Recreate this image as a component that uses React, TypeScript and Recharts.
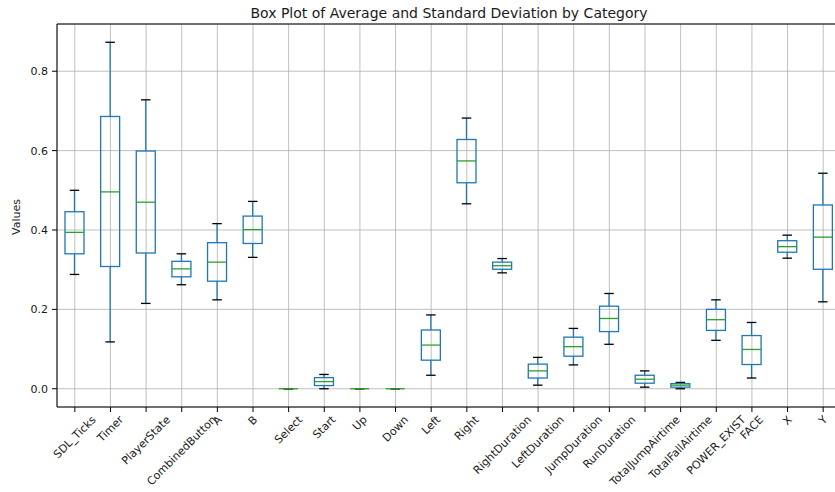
import { ComposedChart, Bar, XAxis, YAxis, CartesianGrid, ReferenceLine } from 'recharts';

const CATEGORIES = [
  'SDL_Ticks', 'Timer', 'PlayerState', 'CombinedButton', 'A', 'B', 'Select', 'Start', 'Up', 'Down',
  'Left', 'Right', 'RightDuration', 'LeftDuration', 'JumpDuration', 'RunDuration',
  'TotalJumpAirtime', 'TotalFallAirtime', 'POWER_EXIST', 'FACE', 'X', 'Y',
];

// five-number summary per category
const WHISKER_LOW = [0.288, 0.118, 0.215, 0.262, 0.224, 0.331, 0, 0.0, 0, 0, 0.034, 0.466, 0.292, 0.009, 0.060, 0.112, 0.004, 0.0, 0.122, 0.027, 0.329, 0.219];
const Q1 = [0.340, 0.308, 0.342, 0.282, 0.271, 0.366, 0, 0.008, 0, 0, 0.072, 0.519, 0.301, 0.027, 0.082, 0.144, 0.014, 0.004, 0.147, 0.061, 0.344, 0.301];
const MEDIAN = [0.394, 0.496, 0.470, 0.302, 0.319, 0.401, 0, 0.018, 0, 0, 0.110, 0.574, 0.310, 0.045, 0.106, 0.177, 0.024, 0.009, 0.174, 0.099, 0.358, 0.382];
const Q3 = [0.446, 0.686, 0.599, 0.321, 0.368, 0.435, 0, 0.028, 0, 0, 0.148, 0.628, 0.319, 0.062, 0.130, 0.208, 0.034, 0.013, 0.200, 0.134, 0.373, 0.463];
const WHISKER_HIGH = [0.500, 0.873, 0.728, 0.340, 0.416, 0.472, 0, 0.036, 0, 0, 0.186, 0.682, 0.328, 0.079, 0.152, 0.240, 0.045, 0.016, 0.224, 0.167, 0.387, 0.543];

const Y_TICKS = [0, 0.2, 0.4, 0.6, 0.8];

const FONT = '"DejaVu Sans", sans-serif';
const BLUE = '#1f77b4';
const GREEN = '#2ca02c';

const data = CATEGORIES.map((name, i) => ({
  name,
  low: WHISKER_LOW[i],
  q1: Q1[i],
  median: MEDIAN[i],
  q3: Q3[i],
  high: WHISKER_HIGH[i],
  range: [WHISKER_LOW[i], WHISKER_HIGH[i]],
}));

let measureCtx: CanvasRenderingContext2D | null = null;
function textWidth(s: string) {
  if (!measureCtx) measureCtx = document.createElement('canvas').getContext('2d');
  if (!measureCtx) return s.length * 6.5;
  measureCtx.font = `11px ${FONT}`;
  return measureCtx.measureText(s).width;
}

// matplotlib-style rot=45 labels: the rotated bbox is centred under the tick
function RotatedTick(props: any) {
  const { x, y, payload } = props;
  const label = String(payload.value);
  const w = textWidth(label);
  const h = 11;
  const cy = y + ((w + h) * Math.SQRT1_2) / 2;
  return (
    <text
      x={x}
      y={cy}
      textAnchor="middle"
      dominantBaseline="central"
      transform={`rotate(-45, ${x}, ${cy})`}
      fontSize={11}
      fontFamily={FONT}
      fill="#1a1a1a"
    >
      {label}
    </text>
  );
}

// range bar [low, high] gives the pixel span; inner values are placed on the same linear scale
function BoxShape(props: any) {
  const { x, y, width, height, payload } = props;
  const top = Math.min(y, y + height);
  const h = Math.abs(height);
  const { low, q1, median, q3, high } = payload;
  const span = high - low;
  const py = (v: number) => (span > 0 ? top + ((high - v) / span) * h : top);
  const cx = x + width / 2;
  const cap = width / 4;
  return (
    <g>
      <line x1={cx} x2={cx} y1={py(high)} y2={py(q3)} stroke={BLUE} strokeWidth={1.3} />
      <line x1={cx} x2={cx} y1={py(q1)} y2={py(low)} stroke={BLUE} strokeWidth={1.3} />
      <line x1={cx - cap} x2={cx + cap} y1={py(high)} y2={py(high)} stroke="#000" strokeWidth={1.3} />
      <line x1={cx - cap} x2={cx + cap} y1={py(low)} y2={py(low)} stroke="#000" strokeWidth={1.3} />
      <rect x={x} y={py(q3)} width={width} height={Math.max(0, py(q1) - py(q3))} fill="none" stroke={BLUE} strokeWidth={1.3} />
      <line x1={x} x2={x + width} y1={py(median)} y2={py(median)} stroke={GREEN} strokeWidth={1.3} />
    </g>
  );
}

export default function App() {
  return (
    <div
      style={{
        position: 'fixed',
        left: 0,
        top: 0,
        width: 835,
        height: 492,
        overflow: 'hidden',
        background: '#fff',
        fontFamily: FONT,
      }}
    >
      <div
        style={{
          position: 'absolute',
          left: 0,
          top: 4,
          width: 898,
          textAlign: 'center',
          fontSize: 14,
          lineHeight: '18px',
          color: '#1a1a1a',
        }}
      >
        Box Plot of Average and Standard Deviation by Category
      </div>
      <div
        style={{
          position: 'absolute',
          left: -13,
          top: 210,
          width: 60,
          height: 14,
          lineHeight: '14px',
          textAlign: 'center',
          fontSize: 11,
          color: '#1a1a1a',
          transform: 'rotate(-90deg)',
        }}
      >
        Values
      </div>
      <ComposedChart
        width={850}
        height={492}
        data={data}
        margin={{ top: 24, right: 9, left: 0, bottom: 0 }}
        barCategoryGap={0}
      >
        <CartesianGrid stroke="#b0b0b0" strokeWidth={0.8} />
        <XAxis
          dataKey="name"
          interval={0}
          height={85}
          tick={<RotatedTick />}
          tickSize={5}
          tickMargin={2}
          axisLine={{ stroke: '#000', strokeWidth: 1 }}
          tickLine={{ stroke: '#000' }}
        />
        <YAxis
          width={57}
          domain={[-0.046, 0.919]}
          allowDataOverflow
          ticks={Y_TICKS}
          tickFormatter={(v: number) => v.toFixed(1)}
          tick={{ fontSize: 11, fontFamily: FONT, fill: '#1a1a1a' }}
          tickSize={5}
          tickMargin={4}
          axisLine={{ stroke: '#000', strokeWidth: 1 }}
          tickLine={{ stroke: '#000' }}
        />
        <ReferenceLine y={0.919} stroke="#000" strokeWidth={1} ifOverflow="extendDomain" />
        <Bar dataKey="range" barSize={19} shape={<BoxShape />} isAnimationActive={false} />
      </ComposedChart>
    </div>
  );
}
